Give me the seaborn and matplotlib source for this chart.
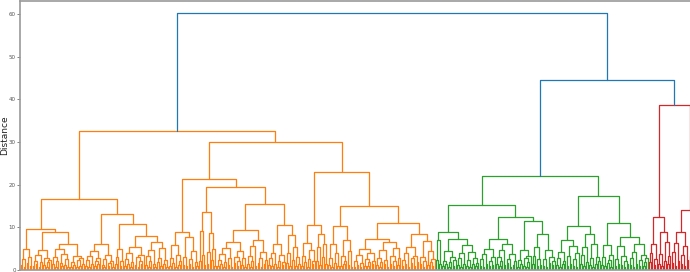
import numpy as np
import pandas as pd
import matplotlib
matplotlib.use("Agg")
import matplotlib.pyplot as plt
import seaborn as sns

# Dendrogram stored as the merge height between each pair of neighbouring leaves
# (left to right). Small bushes first, then glued together with the link heights.

# orange cluster, left half
lla = [1.1, 2.6, 0.8, 4.9, 1.7, 3.1, 0.9]
llb1 = [0.9, 2.2, 1.4, 3.5, 0.7, 1.8, 4.6, 1.2, 2.9, 0.6, 1.9, 2.4]
llb2a = [1.3, 3.0, 0.8, 2.1, 5.0, 1.6, 0.9, 3.8, 1.1, 2.5, 0.7]
llb2b = [0.8, 1.9, 1.2, 3.4, 0.6, 2.3, 1.0, 2.7, 1.5]
lra1 = [1.0, 2.4, 0.7, 3.3, 1.5, 4.4, 0.9, 2.0, 1.3, 2.8]
lra2 = [1.2, 0.6, 2.5, 3.6, 0.9, 1.7, 2.2, 0.8]
lrb1 = [1.4, 3.1, 5.0, 0.9, 2.2]
lrb2a = [0.9, 2.6, 1.3, 4.1, 0.7, 1.8, 5.5, 1.1, 3.0, 0.8, 2.2, 1.5, 3.6]
lrb2b = [1.2, 3.3, 0.8, 2.0, 4.7, 1.4, 0.6, 6.6, 1.9, 2.8, 0.9, 5.1, 1.3, 2.4, 0.7]

# orange cluster, right half
rla1 = [1.0, 2.9, 1.6, 5.8, 0.8, 3.5, 1.2, 2.1]
rla2a = [1.1, 3.0, 0.9]
rla2b = [1.3, 2.6, 0.7, 4.5, 1.8, 1.0]
rlb1a = [2.0, 9.2, 3.6, 1.2]
rlb1b = [1.4, 4.2, 8.6, 2.3, 5.0, 1.0]
rlb2a1 = [0.9, 2.3, 1.4, 3.8, 0.7, 1.9, 5.2, 1.1, 2.7, 0.8, 6.5, 1.6, 3.1, 0.9, 2.2, 4.4, 1.2, 2.8, 0.6]
rlb2a2 = [1.3, 3.4, 0.8, 2.1, 5.6, 1.0, 7.0, 1.7, 2.9, 0.7, 4.3, 1.4, 2.4]
rlb2b1 = [1.1, 2.7, 0.9, 4.1, 1.5, 6.0, 0.8, 2.2, 3.5, 1.2, 1.9]
rlb2b2 = [1.6, 3.9, 1.0, 8.2, 2.4, 5.3, 0.9, 3.1, 1.4]
rra1 = [1.0, 3.2, 1.8, 6.4, 0.7, 2.5, 4.6, 1.3, 2.0]
rra2 = [2.1, 5.4, 1.2, 8.5, 3.0, 6.1, 1.5]
rrb1a = [1.2, 2.8, 0.8, 6.0, 1.6, 3.9, 1.0]
rrb1b = [0.9, 3.3, 1.5, 2.2, 7.0, 1.1, 4.5, 0.8]
rrb2aa = [0.8, 2.1, 1.2, 3.6, 0.7, 1.6, 5.0, 1.0, 2.6, 0.9, 1.8, 3.9, 1.3, 2.2]
rrb2ab = [1.1, 2.9, 0.7, 1.9, 4.8, 1.3, 2.4, 0.8, 6.5, 1.5, 3.4, 0.9, 2.0, 5.2, 1.2, 2.7]
rrb2ba = [0.9, 2.4, 1.3, 4.0, 0.8, 5.5, 1.6, 2.8, 1.0, 3.3, 1.9]
rrb2bb = [1.4, 3.0, 0.7, 2.2, 6.8, 1.1, 4.4, 1.8, 0.9, 2.6]

# green cluster
gla1 = [2.4, 7.0, 1.5]
gla2a = [0.9, 2.2, 1.3, 4.5, 0.7, 1.8, 3.1, 1.0, 2.4]
gla2b = [1.2, 2.7, 0.8, 3.9, 1.5, 5.8, 1.0, 2.3, 0.7, 4.2, 1.4, 2.9, 0.9, 1.7]
glb1a = [1.0, 2.5, 0.8, 3.7, 1.4, 5.0, 0.9, 2.1, 1.2, 3.0]
glb1b = [1.3, 3.1, 0.9, 2.0, 4.6, 1.1, 6.0, 1.7, 2.6, 0.8, 3.8, 1.2, 2.2]
glb2a = [0.8, 2.3, 1.5, 4.6, 1.0, 2.9, 0.7, 1.9, 3.3]
glb2ba = [1.4, 3.2, 5.5, 0.9, 2.5, 1.1]
glb2bb = [1.0, 2.6, 0.8, 4.8, 1.7, 3.0, 1.2, 2.0]
gra1 = [1.1, 2.8, 0.8, 4.3, 1.5, 2.2, 7.0, 0.9, 3.4, 1.3, 5.6, 1.0, 2.5, 0.7, 3.9]
gra2 = [1.3, 3.6, 0.9, 5.4, 1.8, 8.5, 1.1, 2.7, 0.8, 6.2, 1.4, 3.1, 2.0]
grb1 = [1.2, 3.0, 0.9, 5.8, 1.6, 2.4, 0.8, 3.5]
grb2a = [0.9, 2.6, 1.4, 5.6, 1.1, 3.3, 0.8, 2.0, 1.5]
grb2b = [1.2, 2.9, 0.8, 4.2, 1.5, 6.0, 1.0, 2.3, 3.6, 0.9, 1.8, 2.7]

# red cluster (runs past the right edge of the picture)
rdl1 = [1.8, 3.9, 6.2, 1.2, 2.6]
rdl2a = [1.3, 3.8, 0.9]
rdl2b = [2.0, 6.5, 1.4, 3.3]
rdr1 = [1.6, 4.2, 1.0, 6.3, 2.2, 9.0, 1.3, 3.5, 0.9, 5.7, 2.4]
rdr2 = [1.1, 3.4, 0.8, 5.2, 1.9, 7.5, 1.2, 2.7, 4.6, 0.9, 2.1, 1.5, 3.8]

ll = lla + [9.5] + llb1 + [8.9] + llb2a + [6.2] + llb2b
lr = lra1 + [6.2] + lra2 + [13.1] + lrb1 + [10.9] + lrb2a + [8.0] + lrb2b
rl = (rla1 + [8.9] + rla2a + [7.8] + rla2b + [21.4] + rlb1a + [13.5] + rlb1b
      + [19.4] + rlb2a1 + [9.4] + rlb2a2 + [15.5] + rlb2b1 + [10.5] + rlb2b2)
rr = (rra1 + [10.5] + rra2 + [23.0] + rrb1a + [10.4] + rrb1b + [14.9]
      + rrb2aa + [7.3] + rrb2ab + [11.1] + rrb2ba + [8.5] + rrb2bb)
orange = ll + [16.7] + lr + [32.5] + rl + [30.0] + rr

green = (gla1 + [9.0] + gla2a + [7.2] + gla2b + [15.3] + glb1a + [7.2] + glb1b
         + [12.5] + glb2a + [11.4] + glb2ba + [8.4] + glb2bb + [22.1]
         + gra1 + [10.4] + gra2 + [17.3] + grb1 + [11.1] + grb2a + [7.8] + grb2b)

red = rdl1 + [12.5] + rdl2a + [8.8] + rdl2b + [38.8] + rdr1 + [14.0] + rdr2

gaps = orange + [60.2] + green + [44.6] + red
n_leaves = len(gaps) + 1
n_orange = len(orange) + 1
n_green = len(green) + 1
threshold = 40

colors = {"orange": "#ff7f0e", "green": "#2ca02c", "red": "#d62728", "above": "#1f77b4"}


def cluster_of(i):
    if i < n_orange:
        return "orange"
    if i < n_orange + n_green:
        return "green"
    return "red"


rows = []


def build(lo, hi):
    if lo == hi:
        return lo + 0.5, 0.0
    k = lo + int(np.argmax(gaps[lo:hi]))
    h = gaps[k]
    xl, hl = build(lo, k)
    xr, hr = build(k + 1, hi)
    grp = "above" if h > threshold else cluster_of(lo)
    for x, y in [(xl, hl), (xl, h), (xr, h), (xr, hr)]:
        rows.append({"x": x, "y": y, "group": grp})
    return (xl + xr) / 2, h


build(0, n_leaves - 1)
df = pd.DataFrame(rows)
df["link"] = df.index // 4

sns.set_style("white")
fig = plt.figure(figsize=(6.9, 2.72), dpi=100)
# axes run on past the right edge, like the cropped original
ax = fig.add_axes([20 / 690, 2 / 272, n_leaves * 1.5 / 690, 269.5 / 272])

sns.lineplot(data=df, x="x", y="y", units="link", estimator=None, hue="group",
             palette=colors, sort=False, lw=0.9, legend=False, ax=ax)

ax.set_xlim(0, n_leaves)
ax.set_ylim(0, 63.2)
ax.set_xticks([])
ax.set_yticks([0, 10, 20, 30, 40, 50, 60])
ax.tick_params(axis="y", labelsize=4, length=2, width=0.5, pad=1,
               colors="#555555", left=True)
ax.set_xlabel("")
ax.set_ylabel("Distance", fontsize=6.5, color="#222222")
ax.yaxis.set_label_coords(-11 / (n_leaves * 1.5), 0.5)
for s in ["left", "top", "bottom", "right"]:
    ax.spines[s].set_color("#9a9a9a")
    ax.spines[s].set_linewidth(1.2)

fig.savefig("out.png", dpi=100)
